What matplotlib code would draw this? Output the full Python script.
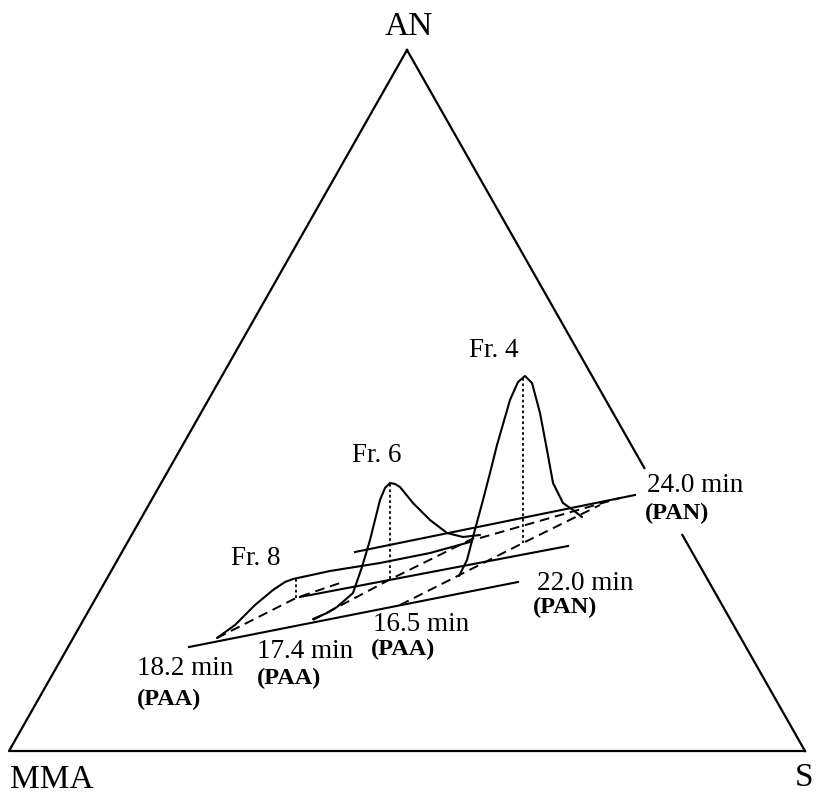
import numpy as np
import matplotlib.pyplot as plt

# picture coordinates (pixels, y down)
tri_x = [9, 407, 805]
tri_y = [751, 50, 751]
gap_y = [468, 535]          # right edge is broken behind the 24.0 min label

# solid time lines
solid_lines = [
    [(189, 647), (518, 582)],
    [(300, 597), (568, 546)],
    [(355, 552), (635, 495)],
]
# dashed base lines
dashed_lines = [
    [(217, 638), (296, 598), (340, 583)],
    [(313, 620), (389, 580), (480, 535)],
    [(400, 605), (523, 543), (600, 505)],
    [(480, 538), (620, 498)],
]
# chromatogram traces
fr8_x = [217, 235, 255, 273, 285, 293, 330, 380, 430, 470]
fr8_y = [638, 625, 605, 590, 582, 579, 571, 563, 553, 542]
fr6_x = [313, 327, 337, 353, 362, 370, 380, 385, 390, 395, 400, 413, 430, 447, 463, 480]
fr6_y = [619, 613, 607, 593, 567, 540, 500, 488, 483, 484, 487, 503, 520, 533, 537, 535]
fr4_x = [459, 467, 473, 483, 490, 497, 510, 518, 525, 532, 540, 547, 553, 563, 573, 582]
fr4_y = [576, 560, 537, 500, 473, 445, 400, 382, 376, 383, 413, 450, 483, 503, 510, 517]
# peak drop lines
drops = [(296, 579, 598), (390, 484, 580), (523, 378, 543)]

# text, x, baseline y, size, weight, alignment
labels = [
    ("AN", 409, 35, 24, "normal", "center"),
    ("MMA", 52, 788, 24, "normal", "center"),
    ("S", 804, 786, 24, "normal", "center"),
    ("Fr. 4", 494, 357, 19.5, "normal", "center"),
    ("Fr. 6", 377, 462, 19.5, "normal", "center"),
    ("Fr. 8", 256, 565, 19.5, "normal", "center"),
    ("24.0 min", 647, 492, 19.5, "normal", "left"),
    ("(PAN)", 645, 519, 17.5, "bold", "left"),
    ("22.0 min", 537, 590, 19.5, "normal", "left"),
    ("(PAN)", 533, 613, 17.5, "bold", "left"),
    ("16.5 min", 373, 631, 19.5, "normal", "left"),
    ("(PAA)", 371, 655, 17.5, "bold", "left"),
    ("17.4 min", 257, 658, 19.5, "normal", "left"),
    ("(PAA)", 257, 684, 17.5, "bold", "left"),
    ("18.2 min", 137, 675, 19.5, "normal", "left"),
    ("(PAA)", 137, 705, 17.5, "bold", "left"),
]

fig = plt.figure(figsize=(8.17, 7.95), dpi=100)
ax = fig.add_axes([0, 0, 1, 1])
ax.set_xlim(0, 817)
ax.set_ylim(795, 0)
ax.axis("off")

# triangle, right edge in two pieces
k = (tri_x[2] - tri_x[1]) / (tri_y[2] - tri_y[1])
ax.plot([tri_x[1], tri_x[0], tri_x[2]], [tri_y[1], tri_y[0], tri_y[2]], color="black", lw=1.6)
ax.plot([tri_x[1], tri_x[1] + k * (gap_y[0] - tri_y[1])], [tri_y[1], gap_y[0]], color="black", lw=1.6)
ax.plot([tri_x[1] + k * (gap_y[1] - tri_y[1]), tri_x[2]], [gap_y[1], tri_y[2]], color="black", lw=1.6)

for seg in solid_lines:
    xs, ys = zip(*seg)
    ax.plot(xs, ys, color="black", lw=1.5)
for seg in dashed_lines:
    xs, ys = zip(*seg)
    ax.plot(xs, ys, color="black", lw=1.4, ls=(0, (5, 3)))

for xs, ys in [(fr8_x, fr8_y), (fr6_x, fr6_y), (fr4_x, fr4_y)]:
    ax.plot(xs, ys, color="black", lw=1.5, solid_capstyle="round")

for x, y0, y1 in drops:
    ax.plot([x, x], [y0, y1], color="black", lw=1.3, ls=(0, (1.5, 1.5)))

for txt, x, y, size, weight, ha in labels:
    ax.text(x, y, txt, fontsize=size, fontweight=weight, ha=ha, va="baseline",
            family=["Liberation Serif", "DejaVu Serif"])

fig.savefig("out.png", dpi=100)
